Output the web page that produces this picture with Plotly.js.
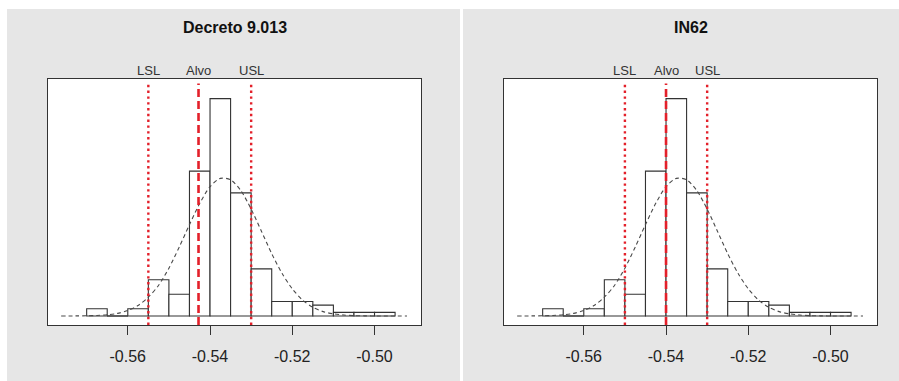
<!DOCTYPE html>
<html>
<head>
<meta charset="utf-8">
<script src="https://cdn.plot.ly/plotly-3.0.1.min.js"></script>
<style>html,body{margin:0;padding:0;background:#fff;}#chart{width:899px;height:381px;}</style>
</head>
<body>
<div id="chart"></div>
<script>
// ---- data ----
const panelTitles = ["Decreto 9.013", "IN62"];
const binStarts = [-0.57, -0.565, -0.56, -0.555, -0.55, -0.545, -0.54, -0.535, -0.53, -0.525, -0.52, -0.515, -0.51, -0.505, -0.5];
const binWidth = 0.005;
const countsDecreto = [2, 0, 2, 10, 6, 40, 60, 34, 13, 4, 4, 3, 1, 1, 1];
const countsIN62 = [2, 0, 2, 10, 6, 40, 60, 34, 13, 4, 4, 3, 1, 1, 1];
const curveX = [-0.5762, -0.5725, -0.57, -0.5675, -0.565, -0.5625, -0.56, -0.5575, -0.555, -0.5525, -0.55, -0.5475, -0.545, -0.5425, -0.54, -0.5375, -0.535, -0.5325, -0.53, -0.5275, -0.525, -0.5225, -0.52, -0.5175, -0.515, -0.5125, -0.51, -0.5075, -0.505, -0.5025, -0.5, -0.4921];
const curveY = [0, 0.02, 0.05, 0.14, 0.32, 0.72, 1.5, 2.9, 5.2, 8.5, 13.2, 19.0, 25.2, 31.1, 35.7, 38.0, 37.6, 34.6, 29.5, 23.4, 17.2, 11.8, 7.5, 4.4, 2.4, 1.2, 0.6, 0.26, 0.1, 0.04, 0.01, 0];
const specNames = ["LSL", "Alvo", "USL"];
const specDecreto = [-0.555, -0.5428, -0.53];
const specIN62 = [-0.55, -0.54, -0.53];
const tickVals = [-0.56, -0.54, -0.52, -0.50];
const tickLabels = ["-0.56", "-0.54", "-0.52", "-0.50"];

// ---- styling ----
const W = 899, H = 381;
const FONT = "Liberation Sans, Arial, sans-serif";
const RED = "#e3202a";
const INK = "#333333";
const GRAY = "#e6e6e6";

function px(v) { return v / W; }
function py(v) { return 1 - v / H; }

const panels = [
  {counts: countsDecreto, spec: specDecreto, xa: "x", ya: "y", box: [48, 421]},
  {counts: countsIN62, spec: specIN62, xa: "x2", ya: "y2", box: [504, 877]}
];

const traces = [];
const shapes = [
  {type: "rect", xref: "paper", yref: "paper", x0: px(7), x1: px(460), y0: 0, y1: py(9), fillcolor: GRAY, line: {width: 0}, layer: "below"},
  {type: "rect", xref: "paper", yref: "paper", x0: px(463), x1: 1, y0: 0, y1: py(9), fillcolor: GRAY, line: {width: 0}, layer: "below"}
];
const annotations = [];

panels.forEach((p, i) => {
  const sfx = i === 0 ? "" : "2";
  shapes.push({type: "rect", xref: "x" + sfx + " domain", yref: "y" + sfx + " domain", x0: 0, x1: 1, y0: 0, y1: 1,
    fillcolor: "#ffffff", line: {width: 0}, layer: "below"});
  traces.push({
    type: "bar", x: binStarts, y: p.counts, width: binWidth, offset: 0,
    xaxis: p.xa, yaxis: p.ya,
    marker: {color: "#ffffff", line: {color: INK, width: 1.1}},
    hoverinfo: "skip", showlegend: false
  });
  // zero-height bins are drawn as a flat line by R
  const zx = [], zy = [];
  binStarts.forEach((s, k) => { if (p.counts[k] === 0) { zx.push(s, s + binWidth, null); zy.push(0, 0, null); } });
  traces.push({type: "scatter", mode: "lines", x: zx, y: zy, xaxis: p.xa, yaxis: p.ya,
    line: {color: INK, width: 1.1}, hoverinfo: "skip", showlegend: false});
  traces.push({
    type: "scatter", mode: "lines", x: curveX, y: curveY, xaxis: p.xa, yaxis: p.ya,
    line: {color: "#4a4a4a", width: 1.1, dash: "4px,3px", shape: "spline", smoothing: 0.8},
    hoverinfo: "skip", showlegend: false
  });
  p.spec.forEach((v, k) => {
    const isTarget = specNames[k] === "Alvo";
    shapes.push({type: "line", xref: p.xa, yref: "y" + sfx + " domain", x0: v, x1: v, y0: 0, y1: 0.982,
      line: {color: RED, width: isTarget ? 2.6 : 2.4, dash: isTarget ? "8px,4px" : "2.4px,3.4px"}, layer: "above"});
    annotations.push({xref: p.xa, yref: "paper", x: v, y: py(70.7), yanchor: "middle", xanchor: "center",
      text: specNames[k], showarrow: false, font: {family: FONT, size: 13, color: INK}});
  });
  annotations.push({xref: "x" + sfx + " domain", yref: "paper", x: 0.5, y: py(27.7), yanchor: "middle", xanchor: "center",
    text: "<b>" + panelTitles[i] + "</b>", showarrow: false, font: {family: FONT, size: 16, color: "#111111"}});
});

const xBase = {
  range: [-0.5794, -0.4887], tickmode: "array", tickvals: tickVals, ticktext: tickLabels,
  ticks: "outside", ticklen: 9, tickwidth: 1, tickcolor: INK,
  tickfont: {family: FONT, size: 16, color: "#222222"}, ticklabelstandoff: 8,
  showline: true, mirror: true, linecolor: INK, linewidth: 1.2,
  showgrid: false, zeroline: false, fixedrange: true
};
const yBase = {
  range: [-2.49, 65.43], showline: true, mirror: true, linecolor: INK, linewidth: 1.2,
  ticks: "", showticklabels: false, showgrid: false, zeroline: false, fixedrange: true,
  domain: [py(325), py(79)]
};

const layout = {
  width: W, height: H, margin: {l: 0, r: 0, t: 0, b: 0},
  paper_bgcolor: "#ffffff", plot_bgcolor: "rgba(0,0,0,0)",
  showlegend: false,
  xaxis: Object.assign({}, xBase, {domain: [px(48), px(421)], anchor: "y"}),
  xaxis2: Object.assign({}, xBase, {domain: [px(504), px(877)], anchor: "y2"}),
  yaxis: Object.assign({}, yBase, {anchor: "x"}),
  yaxis2: Object.assign({}, yBase, {anchor: "x2"}),
  shapes: shapes, annotations: annotations
};

Plotly.newPlot("chart", traces, layout, {displayModeBar: false, staticPlot: true});
</script>
</body>
</html>
